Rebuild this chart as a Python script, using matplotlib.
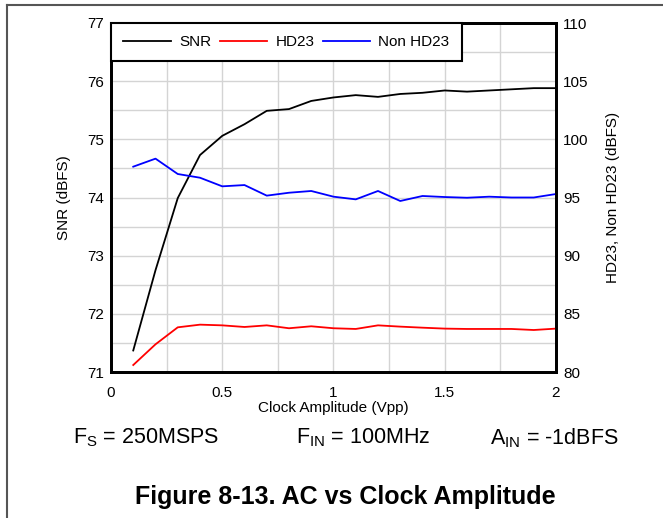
import matplotlib
matplotlib.use("Agg")
import matplotlib.pyplot as plt
from matplotlib.lines import Line2D
from matplotlib.ticker import MultipleLocator

plt.rcParams['font.family'] = ['Liberation Sans', 'DejaVu Sans']
plt.rcParams['mathtext.fontset'] = 'custom'
plt.rcParams['mathtext.rm'] = 'Liberation Sans'

# data
clock_vpp = [0.1, 0.2, 0.3, 0.4, 0.5, 0.6, 0.7, 0.8, 0.9, 1.0,
             1.1, 1.2, 1.3, 1.4, 1.5, 1.6, 1.7, 1.8, 1.9, 2.0]
snr = [71.37, 72.75, 73.99, 74.73, 75.06, 75.26, 75.49, 75.52, 75.66, 75.72,
       75.76, 75.73, 75.78, 75.80, 75.84, 75.82, 75.84, 75.86, 75.88, 75.88]
hd23 = [80.6, 82.38, 83.84, 84.07, 84.01, 83.87, 84.01, 83.76, 83.93, 83.76,
        83.70, 84.01, 83.90, 83.81, 83.73, 83.70, 83.70, 83.70, 83.61, 83.73]
non_hd23 = [97.65, 98.34, 97.02, 96.7, 95.96, 96.07, 95.16, 95.41, 95.56, 95.07,
            94.84, 95.56, 94.7, 95.13, 95.04, 94.98, 95.07, 95.0, 95.0, 95.3]

fig = plt.figure(figsize=(6.63, 5.18), dpi=100)
ax = fig.add_axes([111 / 663, 1 - 372 / 518, 445 / 663, 349 / 518])
ax2 = ax.twinx()

ax.set_xlim(0, 2)
ax.set_ylim(71, 77)
ax2.set_ylim(80, 110)
ax.xaxis.set_major_locator(MultipleLocator(0.5))
ax.xaxis.set_minor_locator(MultipleLocator(0.25))
ax.yaxis.set_major_locator(MultipleLocator(1))
ax.yaxis.set_minor_locator(MultipleLocator(0.5))
ax2.yaxis.set_major_locator(MultipleLocator(5))
ax.set_xticks([0, 0.5, 1, 1.5, 2])
ax.set_xticklabels(['0', '0.5', '1', '1.5', '2'])

ax.grid(True, which='both', color='#d4d4d4', linewidth=1.0)
ax.set_axisbelow(True)
ax.tick_params(which='both', length=0, labelsize=11, pad=5)
ax.tick_params(axis='x', pad=10)
ax2.tick_params(which='both', length=0, labelsize=11, pad=5)

for a in (ax, ax2):
    for s in a.spines.values():
        s.set_linewidth(2)
        s.set_color('black')

l1, = ax.plot(clock_vpp, snr, color='black', linewidth=1.3)
l2, = ax2.plot(clock_vpp, hd23, color='#ff0000', linewidth=1.3)
l3, = ax2.plot(clock_vpp, non_hd23, color='#0000ff', linewidth=1.3)

ax.set_xlabel('Clock Amplitude (Vpp)', fontsize=11, labelpad=1)
ax.set_ylabel('SNR (dBFS)', fontsize=11, labelpad=12)
ax2.set_ylabel('HD23, Non HD23 (dBFS)', fontsize=11, labelpad=13)

leg = ax2.legend([l1, l2, l3], ['SNR', 'HD23', 'Non HD23'], loc='upper left',
                 ncol=3, frameon=True, fancybox=False, edgecolor='black',
                 framealpha=1, fontsize=11, borderaxespad=0,
                 handlelength=3.1, columnspacing=0.55, handletextpad=0.55,
                 borderpad=0.8)
leg.get_frame().set_linewidth(1.5)

fig.text(73 / 663, 1 - 438 / 518, r'F$_\mathregular{S}$ = 250MSPS', fontsize=15.5, va='center')
fig.text(296 / 663, 1 - 438 / 518, r'F$_\mathregular{IN}$ = 100MHz', fontsize=15.5, va='center')
fig.text(490 / 663, 1 - 438 / 518, r'A$_\mathregular{IN}$ = -1dBFS', fontsize=15.5, va='center')
fig.text(345 / 663, 1 - 497 / 518, 'Figure 8-13. AC vs Clock Amplitude',
         fontsize=18, fontweight='bold', ha='center', va='center')

# outer frame lines
fig.add_artist(Line2D([7 / 663, 1], [1 - 5 / 518, 1 - 5 / 518], color='#555555', linewidth=1.5))
fig.add_artist(Line2D([7 / 663, 7 / 663], [0, 1 - 5 / 518], color='#555555', linewidth=1.5))

fig.savefig('out.png', dpi=100)
